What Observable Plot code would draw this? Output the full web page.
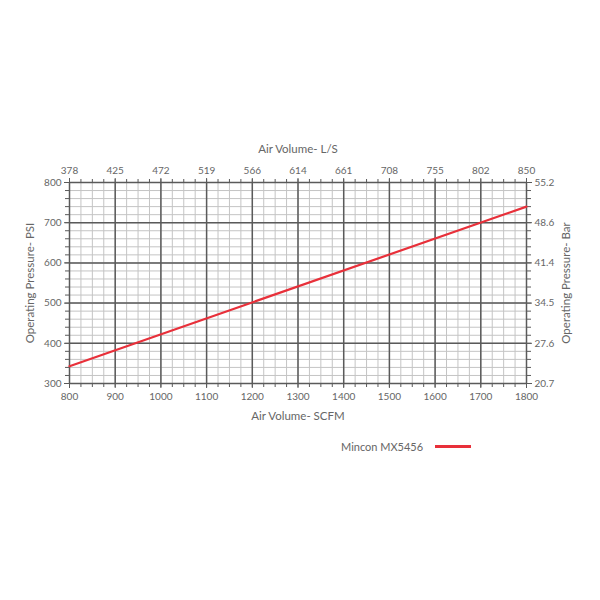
<!DOCTYPE html>
<html>
<head>
<meta charset="utf-8">
<script src="https://cdn.jsdelivr.net/npm/d3@7"></script>
<script src="https://cdn.jsdelivr.net/npm/@observablehq/plot@0.6"></script>
<style>
  html, body { margin: 0; padding: 0; background: #fff; }
  #wrap { position: relative; width: 600px; height: 600px; font-family: Lato, "Open Sans", sans-serif; }
  #legend { position: absolute; left: 341px; top: 440px; display: flex; align-items: center; font-size: 11px; color: #666; }
  #legend .sw { display: inline-block; width: 36px; height: 2.5px; margin-left: 12px; }
  svg g[aria-label$="axis label"] text { font-size: 11.5px; }
</style>
</head>
<body>
<div id="wrap"><div id="legend"></div></div>
<script>
// Data
const seriesName = "Mincon MX5456";
const seriesColor = "#e8303a";
const airScfm = [800, 1800];
const pressurePsi = [343, 740];

// Tick labels
const scfmTicks = [800, 900, 1000, 1100, 1200, 1300, 1400, 1500, 1600, 1700, 1800];
const lsTicks = ["378", "425", "472", "519", "566", "614", "661", "708", "755", "802", "850"];
const psiTicks = [300, 400, 500, 600, 700, 800];
const barTicks = ["20.7", "27.6", "34.5", "41.4", "48.6", "55.2"];
const scfmMinor = d3.range(800, 1801, 25);
const psiMinor = d3.range(300, 801, 20);

const data = airScfm.map((x, i) => ({x, y: pressurePsi[i]}));
const lsOf = new Map(scfmTicks.map((v, i) => [v, lsTicks[i]]));
const barOf = new Map(psiTicks.map((v, i) => [v, barTicks[i]]));

const txt = "#666";
const major = "#5a5a5a";
const chart = Plot.plot({
  width: 600,
  height: 600,
  marginLeft: 69,
  marginRight: 74,
  marginTop: 182,
  marginBottom: 217,
  style: {fontFamily: "Lato, 'Open Sans', sans-serif", fontSize: "10px", color: txt, background: "transparent"},
  x: {domain: [800, 1800]},
  y: {domain: [300, 800]},
  marks: [
    Plot.gridX(scfmMinor, {stroke: "#c4c4c4", strokeOpacity: 1, strokeWidth: 1}),
    Plot.gridY(psiMinor, {stroke: "#c4c4c4", strokeOpacity: 1, strokeWidth: 1}),
    Plot.gridX(scfmTicks, {stroke: major, strokeOpacity: 1, strokeWidth: 1.5}),
    Plot.gridY(psiTicks, {stroke: major, strokeOpacity: 1, strokeWidth: 1.5}),
    Plot.axisX(scfmMinor, {anchor: "bottom", tickSize: 4, tickFormat: () => "", label: null, stroke: major}),
    Plot.axisX(scfmMinor, {anchor: "top", tickSize: 4, tickFormat: () => "", label: null, stroke: major}),
    Plot.axisY(psiMinor, {anchor: "left", tickSize: 4, tickFormat: () => "", label: null, stroke: major}),
    Plot.axisY(psiMinor, {anchor: "right", tickSize: 4, tickFormat: () => "", label: null, stroke: major}),
    Plot.axisX(scfmTicks, {anchor: "bottom", tickSize: 5, tickPadding: 4, stroke: major, fill: txt,
      tickFormat: d => String(d),
      label: "Air Volume- SCFM", labelAnchor: "center", labelOffset: 36, labelArrow: false}),
    Plot.axisX(scfmTicks, {anchor: "top", tickSize: 5, tickPadding: 4, stroke: major, fill: txt,
      tickFormat: d => lsOf.get(d),
      label: "Air Volume- L/S", labelAnchor: "center", labelOffset: 38, labelArrow: false}),
    Plot.axisY(psiTicks, {anchor: "left", tickSize: 5, tickPadding: 3, stroke: major, fill: txt,
      tickFormat: d => String(d),
      label: "Operating Pressure- PSI", labelAnchor: "center", labelOffset: 44, labelArrow: false}),
    Plot.axisY(psiTicks, {anchor: "right", tickSize: 5, tickPadding: 3, stroke: major, fill: txt,
      tickFormat: d => barOf.get(d),
      label: "Operating Pressure- Bar", labelAnchor: "center", labelOffset: 43, labelArrow: false}),
    Plot.line(data, {x: "x", y: "y", stroke: seriesColor, strokeWidth: 2.2})
  ]
});
document.getElementById("wrap").prepend(chart);
chart.style.position = "absolute";
chart.style.left = "0";
chart.style.top = "0";

const lg = document.getElementById("legend");
lg.innerHTML = `<span>${seriesName}</span><span class="sw" style="background:${seriesColor}"></span>`;
</script>
</body>
</html>
